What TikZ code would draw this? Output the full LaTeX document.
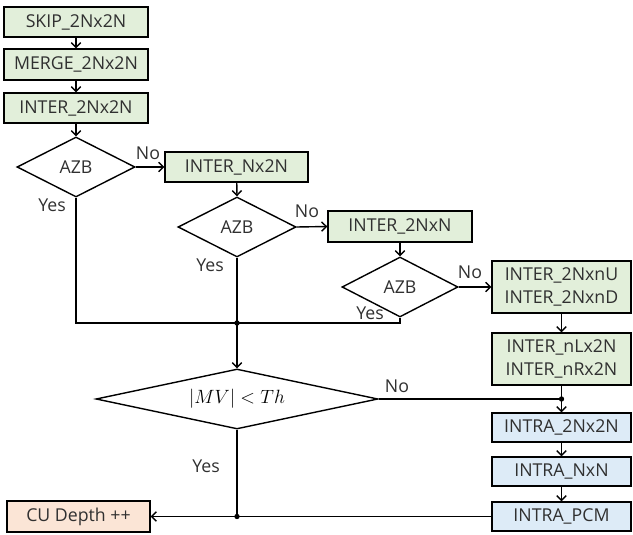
\documentclass[tikz,border=0pt]{standalone}
\usepackage{fontspec}
\setmainfont{Open Sans}
\usetikzlibrary{shapes.geometric,arrows.meta}
\definecolor{intergreen}{HTML}{E2EFDA}
\definecolor{intrablue}{HTML}{DDEBF7}
\definecolor{cupeach}{HTML}{FBE5D6}
\definecolor{txt}{HTML}{303030}
\begin{document}
\begin{tikzpicture}[x=0.75pt,y=-0.75pt,
  font=\fontsize{13.3}{17}\selectfont,
  every node/.style={text=txt},
  box/.style={draw=black, line width=1.05pt, inner sep=0pt, align=center,
    minimum width=108pt, minimum height=22.5pt},
  greenbox/.style={box, fill=intergreen},
  bluebox/.style={box, fill=intrablue},
  peachbox/.style={box, fill=cupeach},
  dec/.style={draw=black, line width=1.05pt, diamond, aspect=2, inner sep=0pt,
    minimum width=88.5pt, minimum height=45pt},
  wire/.style={draw=black, line width=1.05pt},
  arr/.style={wire, -{Straight Barb[length=3.5pt,width=7pt]}},
  lbl/.style={inner sep=0pt},
  dot/.style={circle, fill=black, inner sep=0pt, minimum size=4pt}]

\useasboundingbox (0,0) rectangle (633,535);

% left column
\node[greenbox] (skip)  at (76,22)    {SKIP\_2Nx2N};
\node[greenbox, minimum height=23.25pt] (merge) at (76,64.5) {MERGE\_2Nx2N};
\node[greenbox] (i2n)   at (76,108)   {INTER\_2Nx2N};
\node[dec] (d1) at (76,167) {AZB};

% second column
\node[greenbox, minimum width=107.25pt] (nx2n) at (236.5,167) {INTER\_Nx2N};
\node[dec] (d2) at (237,227) {AZB};

% third column
\node[greenbox, minimum height=23.25pt] (nxn) at (400,226.5) {INTER\_2NxN};
\node[dec, minimum width=87pt] (d3) at (400,287) {AZB};

% right column
\node[greenbox, minimum width=104.25pt, minimum height=39pt] (amp1) at (561.5,287)
  {INTER\_2NxnU\\INTER\_2NxnD};
\node[greenbox, minimum width=104.25pt, minimum height=39pt] (amp2) at (561.5,359)
  {INTER\_nLx2N\\INTER\_nRx2N};
\node[bluebox, minimum width=104.25pt, minimum height=21.75pt] (ia) at (561.5,427.5) {INTRA\_2Nx2N};
\node[bluebox, minimum width=104.25pt, minimum height=21.75pt] (ib) at (561.5,471.5) {INTRA\_NxN};
\node[bluebox, minimum width=104.25pt, minimum height=21.75pt] (ic) at (561.5,516.5) {INTRA\_PCM};

% motion vector test and result
\node[dec, aspect=4.7, minimum width=211.5pt, text=black, font=\fontsize{14}{17}\selectfont] (d4) at (237,399) {$|MV|<Th$};
\node[peachbox, minimum width=107.25pt, minimum height=23.25pt] (cu) at (78.5,516.5) {CU Depth ++};

% junction points
\coordinate (j1) at (237,323);
\coordinate (j2) at (amp2.south |- d4.east);
\coordinate (j3) at (d4.south |- ic.west);

% main chain
\draw[arr] (skip) -- (merge);
\draw[arr] (merge) -- (i2n);
\draw[arr] (i2n) -- (d1.north);
\draw[arr] (d1.east) -- (nx2n.west);
\draw[arr] (nx2n) -- (d2.north);
\draw[arr] (d2.east) -- (nxn.west);
\draw[arr] (nxn) -- (d3.north);
\draw[arr] (d3.east) -- (amp1.west);
\draw[arr] (amp1) -- (amp2);

% "Yes" branches merge
\draw[wire] (d1.south) |- (j1) -| (d3.south);
\draw[arr] (d2.south) -- (d4.north);

% |MV| test
\draw[wire] (d4.east) -- (j2);
\draw[arr] (amp2.south) -- (ia.north);
\draw[arr] (ia) -- (ib);
\draw[arr] (ib) -- (ic);
\draw[wire] (d4.south) -- (j3);
\draw[arr] (ic.west) -- (cu.east);

\node[dot] at (j1) {};
\node[dot] at (j2) {};
\node[dot] at (j3) {};

% branch labels
\node[lbl] at (148,153) {No};
\node[lbl] at (52,205) {Yes};
\node[lbl] at (307,211) {No};
\node[lbl] at (210,265) {Yes};
\node[lbl] at (470,272) {No};
\node[lbl] at (370,313) {Yes};
\node[lbl] at (397,386) {No};
\node[lbl] at (206,466) {Yes};
\end{tikzpicture}
\end{document}
